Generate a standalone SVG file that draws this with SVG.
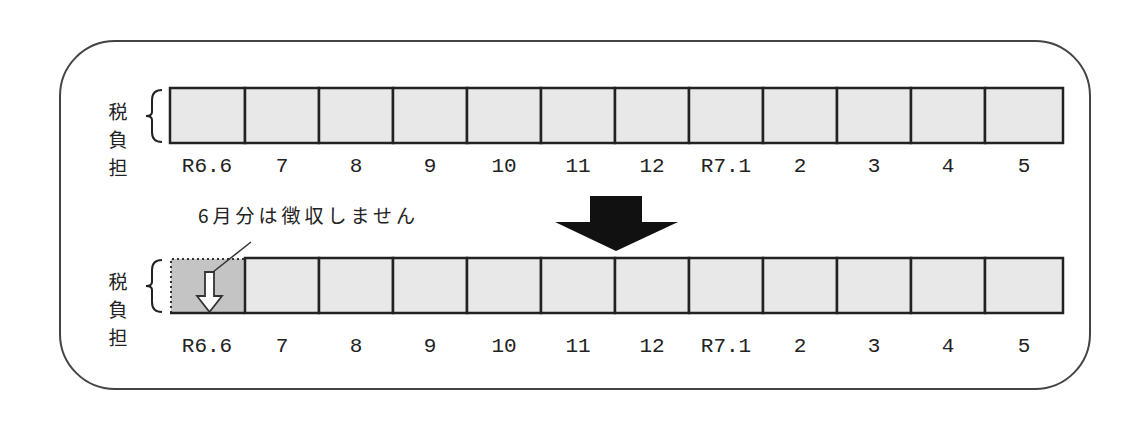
<svg xmlns="http://www.w3.org/2000/svg" width="1143" height="438" viewBox="0 0 1143 438">
<style>
.c{fill:#e8e8e8;stroke:#222;stroke-width:2.5}
.t{font-family:"Liberation Mono","Noto Sans CJK JP",monospace;font-size:21px;fill:#222;text-anchor:middle;transform-box:fill-box}
.j{font-family:"Noto Sans CJK JP",sans-serif;font-size:19px;fill:#222;text-anchor:middle}
.b{fill:none;stroke:#222;stroke-width:2}
</style>
<rect x="60" y="41" width="1030" height="348" rx="55" fill="#fff" stroke="#444" stroke-width="2"/>
<g id="row1">
<rect class="c" x="170" y="88" width="75" height="55"/><rect class="c" x="245" y="88" width="74" height="55"/><rect class="c" x="319" y="88" width="74" height="55"/><rect class="c" x="393" y="88" width="74" height="55"/><rect class="c" x="467" y="88" width="74" height="55"/><rect class="c" x="541" y="88" width="74" height="55"/><rect class="c" x="615" y="88" width="74" height="55"/><rect class="c" x="689" y="88" width="74" height="55"/><rect class="c" x="763" y="88" width="74" height="55"/><rect class="c" x="837" y="88" width="74" height="55"/><rect class="c" x="911" y="88" width="74" height="55"/><rect class="c" x="985" y="88" width="78" height="55"/>
<text class="j" x="118" y="119">税</text><text class="j" x="118" y="147">負</text><text class="j" x="118" y="175">担</text>
<path class="b" d="M162,90 Q152,90 152,100 V112 Q152,116 146,116 Q152,116 152,120 V132 Q152,142 162,142"/>
<g class="t"><text x="207" y="172">R6.6</text><text x="282" y="172">7</text><text x="356" y="172">8</text><text x="430" y="172">9</text><text x="504" y="172">10</text><text x="578" y="172">11</text><text x="652" y="172">12</text><text x="726" y="172">R7.1</text><text x="800" y="172">2</text><text x="874" y="172">3</text><text x="948" y="172">4</text><text x="1024" y="172">5</text></g>
</g>
<g id="bigarrow"><polygon points="590,196 642,196 642,222 678,222 616,251 555,222 590,222" fill="#111"/></g>
<g id="row2">
<rect x="171" y="259" width="74" height="54" fill="#c4c4c4"/>
<path d="M171,313 V259 H245" fill="none" stroke="#333" stroke-width="2" stroke-dasharray="2,3"/>
<rect class="c" x="245" y="258" width="74" height="55"/><rect class="c" x="319" y="258" width="74" height="55"/><rect class="c" x="393" y="258" width="74" height="55"/><rect class="c" x="467" y="258" width="74" height="55"/><rect class="c" x="541" y="258" width="74" height="55"/><rect class="c" x="615" y="258" width="74" height="55"/><rect class="c" x="689" y="258" width="74" height="55"/><rect class="c" x="763" y="258" width="74" height="55"/><rect class="c" x="837" y="258" width="74" height="55"/><rect class="c" x="911" y="258" width="74" height="55"/><rect class="c" x="985" y="258" width="78" height="55"/>
<line x1="170" y1="313" x2="245" y2="313" stroke="#222" stroke-width="2.5"/>
<polygon points="205,272 214,272 214,296 222,296 209.5,312 197,296 205,296" fill="#fff" stroke="#333" stroke-width="1.8"/>
<text class="j" x="118" y="289">税</text><text class="j" x="118" y="317">負</text><text class="j" x="118" y="345">担</text>
<path class="b" d="M162,260 Q152,260 152,270 V282 Q152,286 146,286 Q152,286 152,290 V302 Q152,312 162,312"/>
<g class="t"><text x="207" y="352">R6.6</text><text x="282" y="352">7</text><text x="356" y="352">8</text><text x="430" y="352">9</text><text x="504" y="352">10</text><text x="578" y="352">11</text><text x="652" y="352">12</text><text x="726" y="352">R7.1</text><text x="800" y="352">2</text><text x="874" y="352">3</text><text x="948" y="352">4</text><text x="1024" y="352">5</text></g>
</g>
<g id="note">
<line x1="213" y1="272" x2="251" y2="242" stroke="#333" stroke-width="1.5"/>
<text x="198" y="223" font-family="Noto Sans CJK JP,sans-serif" font-size="19" fill="#222" letter-spacing="4">6月分は徴収しません</text>
</g>
</svg>
